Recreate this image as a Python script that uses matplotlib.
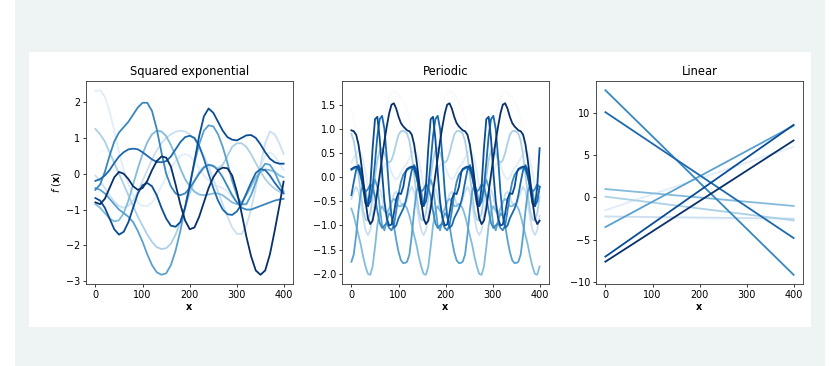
import numpy as np
import matplotlib.pyplot as plt
from matplotlib.patches import Rectangle

# ---- values ----
# squared exponential samples, read every 10 units of x
se_x = np.append(np.arange(0, 400, 10), 399)
se_c0 = [0.5, 0.6, 0.65, 0.6, 0.45, 0.25, 0.0, -0.25, -0.45, -0.55,
         -0.55, -0.45, -0.3, -0.1, 0.1, 0.25, 0.3, 0.25, 0.1, -0.1,
         -0.3, -0.45, -0.5, -0.45, -0.3, -0.1, 0.1, 0.25, 0.3, 0.25,
         0.1, -0.1, -0.3, -0.45, -0.5, -0.45, -0.3, -0.15, 0.0, 0.1, 0.15]
se_c1 = [2.3, 2.33, 2.15, 1.75, 1.2, 0.6, 0.1, -0.3, -0.6, -0.8,
         -0.9, -0.9, -0.8, -0.6, -0.35, -0.1, 0.15, 0.35, 0.5, 0.55,
         0.5, 0.35, 0.15, -0.05, -0.2, -0.3, -0.35, -0.4, -0.5, -0.65,
         -0.8, -0.9, -0.85, -0.6, -0.2, 0.2, 0.5, 0.6, 0.5, 0.3, 0.1]
se_c2 = [-0.05, -0.2, -0.4, -0.6, -0.78, -0.9, -0.95, -0.9, -0.75, -0.5,
         -0.2, 0.1, 0.4, 0.65, 0.85, 1.0, 1.1, 1.17, 1.2, 1.18,
         1.1, 0.95, 0.75, 0.5, 0.2, -0.15, -0.5, -0.85, -1.2, -1.5,
         -1.68, -1.68, -1.45, -1.0, -0.4, 0.25, 0.85, 1.18, 1.1, 0.85, 0.55]
se_c3 = [1.25, 1.1, 0.9, 0.6, 0.3, 0.0, -0.3, -0.6, -0.9, -1.2,
         -1.45, -1.7, -1.9, -2.05, -2.1, -2.08, -1.95, -1.7, -1.35, -0.95,
         -0.55, -0.2, 0.05, 0.2, 0.25, 0.2, 0.15, 0.25, 0.5, 0.75,
         0.85, 0.85, 0.75, 0.55, 0.3, 0.05, -0.15, -0.3, -0.42, -0.5, -0.55]
se_c4 = [-0.85, -0.95, -1.1, -1.25, -1.33, -1.3, -1.1, -0.75, -0.3, 0.15,
         0.55, 0.88, 1.1, 1.2, 1.18, 1.05, 0.8, 0.5, 0.15, -0.15,
         -0.35, -0.5, -0.58, -0.6, -0.58, -0.55, -0.55, -0.6, -0.7, -0.8,
         -0.85, -0.8, -0.6, -0.35, -0.1, 0.05, 0.12, 0.1, 0.05, -0.05, -0.1]
se_c5 = [-0.4, -0.45, -0.55, -0.7, -0.85, -1.0, -1.1, -1.2, -1.35, -1.6,
         -1.9, -2.25, -2.55, -2.75, -2.82, -2.78, -2.55, -2.15, -1.6, -0.95,
         -0.3, 0.3, 0.82, 1.2, 1.35, 1.32, 1.1, 0.75, 0.3, -0.2,
         -0.6, -0.85, -0.85, -0.6, -0.25, 0.1, 0.28, 0.25, 0.05, -0.25, -0.5]
se_c6 = [-0.45, -0.3, 0.05, 0.5, 0.9, 1.15, 1.3, 1.45, 1.65, 1.85,
         1.98, 1.98, 1.75, 1.25, 0.6, 0.0, -0.35, -0.55, -0.6, -0.55,
         -0.4, -0.2, 0.0, 0.17, 0.25, 0.22, 0.1, -0.1, -0.35, -0.6,
         -0.8, -0.95, -1.0, -1.0, -0.95, -0.9, -0.85, -0.8, -0.75, -0.72, -0.7]
se_c7 = [-0.2, -0.15, -0.05, 0.1, 0.3, 0.48, 0.6, 0.68, 0.7, 0.68,
         0.6, 0.5, 0.4, 0.33, 0.32, 0.35, 0.48, 0.68, 0.88, 1.02,
         1.06, 1.0, 0.78, 0.42, 0.0, -0.4, -0.75, -1.0, -1.13, -1.15,
         -1.05, -0.85, -0.55, -0.25, 0.02, 0.13, 0.1, -0.05, -0.25, -0.42, -0.55]
se_c8 = [-0.68, -0.75, -0.95, -1.25, -1.55, -1.7, -1.62, -1.35, -0.95, -0.55,
         -0.32, -0.26, -0.35, -0.6, -0.95, -1.25, -1.45, -1.48, -1.35, -0.95,
         -0.35, 0.35, 1.05, 1.6, 1.82, 1.7, 1.45, 1.2, 1.02, 0.95,
         0.93, 1.0, 1.07, 1.08, 1.0, 0.82, 0.6, 0.42, 0.32, 0.28, 0.28]
se_c9 = [-0.8, -0.85, -0.7, -0.4, -0.1, 0.05, 0.0, -0.15, -0.35, -0.45,
         -0.4, -0.2, 0.1, 0.35, 0.48, 0.45, 0.2, -0.3, -0.85, -1.3,
         -1.55, -1.5, -1.2, -0.8, -0.4, -0.1, 0.1, 0.17, 0.15, -0.05,
         -0.5, -1.1, -1.75, -2.3, -2.7, -2.82, -2.7, -2.25, -1.6, -0.9, -0.22]
se_curves = [se_c0, se_c1, se_c2, se_c3, se_c4, se_c5, se_c6, se_c7, se_c8, se_c9]

# periodic samples: one period read every 5 units, the picture repeats it
per_phase = np.arange(0, 120, 5)
per_period = 118
per_c0 = [1.4, 1.2, 0.9, 0.5, 0.1, -0.2, -0.35, -0.3, -0.1, 0.2, 0.5, 0.75,
          0.95, 1.1, 1.25, 1.45, 1.65, 1.78, 1.8, 1.75, 1.7, 1.65, 1.55, 1.48]
per_c1 = [0.3, 0.4, 0.5, 0.55, 0.5, 0.35, 0.1, -0.2, -0.4, -0.5, -0.45, -0.3,
          -0.1, 0.1, 0.25, 0.3, 0.25, 0.1, 0.0, -0.05, 0.0, 0.1, 0.2, 0.25]
per_c2 = [-0.45, -0.3, -0.2, -0.3, -0.55, -0.85, -1.1, -1.2, -1.1, -0.8, -0.5, -0.3,
          -0.25, -0.4, -0.65, -0.8, -0.75, -0.55, -0.35, -0.3, -0.4, -0.55, -0.6, -0.55]
per_c3 = [0.9, 0.75, 0.45, 0.05, -0.35, -0.7, -0.88, -0.9, -0.75, -0.4, 0.0, 0.35,
          0.55, 0.6, 0.5, 0.35, 0.3, 0.35, 0.5, 0.7, 0.88, 0.95, 0.96, 0.93]
per_c4 = [-0.65, -0.8, -1.0, -1.2, -1.4, -1.65, -1.85, -2.0, -2.02, -1.85, -1.45, -1.0,
          -0.7, -0.6, -0.7, -0.75, -0.65, -0.5, -0.45, -0.5, -0.6, -0.6, -0.55, -0.6]
per_c5 = [-1.75, -1.6, -1.2, -0.7, -0.3, -0.15, -0.3, -0.55, -0.5, -0.2, -0.05, -0.2,
          -0.6, -1.0, -1.1, -0.9, -0.75, -0.8, -1.0, -1.3, -1.55, -1.72, -1.78, -1.77]
per_c6 = [0.15, 0.18, 0.2, 0.15, 0.0, -0.2, -0.3, -0.25, -0.15, -0.2, -0.4, -0.7,
          -0.95, -1.05, -1.0, -0.95, -1.05, -1.1, -1.0, -0.7, -0.35, -0.1, 0.05, 0.12]
per_c7 = [-0.37, -0.1, 0.15, 0.25, 0.15, -0.15, -0.45, -0.6, -0.5, -0.2, 0.3, 0.85,
          1.2, 1.27, 1.0, 0.4, -0.3, -0.8, -1.05, -1.0, -0.85, -0.75, -0.65, -0.5]
per_c8 = [0.17, 0.2, 0.22, 0.2, 0.05, -0.25, -0.55, -0.6, -0.2, 0.6, 1.2, 1.25,
          0.8, 0.1, -0.5, -0.85, -1.0, -0.98, -0.75, -0.45, -0.33, -0.35, -0.2, 0.1]
per_c9 = [0.97, 0.95, 0.88, 0.68, 0.35, -0.05, -0.5, -0.85, -0.97, -0.9, -0.65, -0.3,
          0.05, 0.4, 0.75, 1.05, 1.32, 1.5, 1.53, 1.42, 1.25, 1.12, 1.05, 1.0]
per_curves = [per_c0, per_c1, per_c2, per_c3, per_c4,
              per_c5, per_c6, per_c7, per_c8, per_c9]

# linear samples: value at x=0 and at x=399
lin_x = [0, 399]
lin_start = [-2.2, -1.5, -2.25, 0.1, 1.0, -3.5, 12.7, 10.1, -7.0, -7.6]
lin_end = [-2.85, 6.0, -2.5, -2.7, -1.0, 8.5, -9.15, -4.8, 8.6, 6.75]

titles = ['Squared exponential', 'Periodic', 'Linear']

# ---- figure ----
W, H = 831, 366
fig = plt.figure(figsize=(W / 100, H / 100), dpi=100)
fig.patch.set_facecolor('white')
fig.patches.append(Rectangle((15 / W, 0), 810 / W, 1, transform=fig.transFigure,
                             facecolor='#eef4f4', edgecolor='none', zorder=-2))
fig.patches.append(Rectangle((29 / W, 1 - 327 / H), 782 / W, 275 / H,
                             transform=fig.transFigure, facecolor='white',
                             edgecolor='none', zorder=-1))

colors = plt.cm.Blues(np.linspace(0, 1, 10))
lefts = [86, 342, 596]
axs = [fig.add_axes([l / W, 1 - 284 / H, 207 / W, 203 / H]) for l in lefts]

fs = 6.9
for ax in axs:
    ax.tick_params(labelsize=fs, length=2.4, width=0.55, pad=2)
    for s in ax.spines.values():
        s.set_linewidth(0.6)
        s.set_color('#333333')

# squared exponential
for i, c in enumerate(se_curves):
    axs[0].plot(se_x, c, color=colors[i], lw=1.3)

# periodic
n_rep = 4
per_x = np.concatenate([per_phase + k * per_period for k in range(n_rep)])
for i, c in enumerate(per_curves):
    vals = np.tile(c, n_rep)
    keep = per_x <= 399
    axs[1].plot(per_x[keep], vals[keep], color=colors[i], lw=1.3)

# linear
for i in range(len(lin_start)):
    axs[2].plot(lin_x, [lin_start[i], lin_end[i]], color=colors[i], lw=1.3)

for ax, t in zip(axs, titles):
    ax.set_title(t, fontsize=8.3, pad=4)
    ax.set_xlabel(r'$\mathbf{x}$', fontsize=fs, labelpad=1)
    ax.set_xticks([0, 100, 200, 300, 400])

axs[0].set_ylabel(r'$f\ (\mathbf{x})$', fontsize=fs, labelpad=2)
axs[0].set_yticks([-3, -2, -1, 0, 1, 2])
axs[1].set_yticks(np.arange(-2.0, 1.6, 0.5))
axs[2].set_yticks([-10, -5, 0, 5, 10])

fig.savefig('out.png', dpi=100, facecolor=fig.get_facecolor())
